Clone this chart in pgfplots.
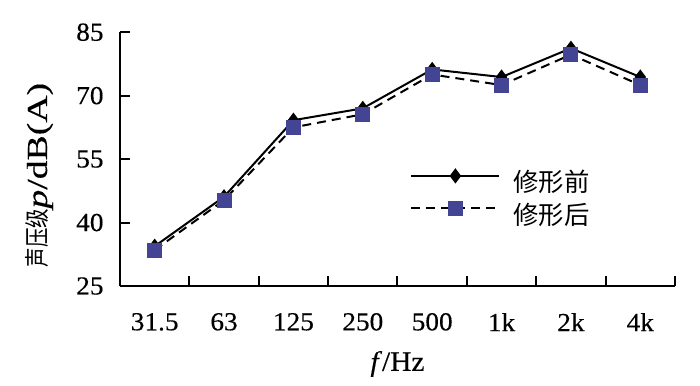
\documentclass[border=0pt]{standalone}
\usepackage{fontspec}
\setmainfont{Liberation Serif}[FakeStretch=1.05, FakeBold=0.3]
\newfontfamily\ylatin{Liberation Serif}[FakeStretch=1.3, FakeBold=0.3]
\newfontfamily\cjk{Noto Sans CJK SC}
\newfontfamily\cjky{Noto Sans CJK SC}[FakeStretch=0.78]
\usepackage{pgfplots}
\pgfplotsset{compat=1.18}
\definecolor{sq}{RGB}{68,68,148}
\begin{document}
\begin{tikzpicture}
\useasboundingbox (-60pt,-49.5pt) rectangle (290pt,143pt);
\begin{axis}[
  at={(0,0)}, anchor=south west,
  scale only axis, width=277.5pt, height=126.9pt,
  xmin=0.5, xmax=8.5, ymin=25, ymax=85,
  axis x line*=bottom, axis y line*=left,
  axis line style={line width=1pt, black},
  tick align=inside,
  every tick/.style={black, line width=1pt},
  major tick length=5pt,
  ytick={25,40,55,70,85},
  xtick={1.5,2.5,3.5,4.5,5.5,6.5,7.5,8.5},
  xticklabels={},
  extra x ticks={1,2,3,4,5,6,7,8},
  extra x tick labels={31.5,63,125,250,500,1k,2k,4k},
  extra x tick style={major tick length=0pt},
  /pgf/number format/assume math mode=true,
  tick label style={font=\fontsize{13}{15}\selectfont},
  xticklabel style={anchor=north, yshift=-10pt},
  yticklabel style={xshift=-4.7pt},
  xlabel={\textit{f}/Hz},
  xlabel style={at={(axis description cs:0.5,-0.307)}, anchor=center, font=\fontsize{14}{16}\selectfont},
  ylabel={{\cjky\fontsize{12.5}{14}\selectfont 声压级}{\ylatin\fontsize{14.5}{16}\selectfont\textit{p}/dB(A)}},
  ylabel style={at={(axis description cs:-0.145,0.4375)}, anchor=center},
  legend style={at={(rel axis cs:0.5225,0.459)}, anchor=north west, draw=none, fill=none,
    inner sep=0pt, row sep=2.3pt, column sep=6.5pt,
    font=\cjk\fontsize{12.7}{14}\selectfont,
    nodes={inner sep=0pt, text height=10.5pt, text depth=2.5pt}},
  legend cell align=left,
  legend image code/.code={\draw[#1, mark repeat=2, mark phase=2] plot coordinates {(0pt,4pt) (22pt,4pt) (44pt,4pt)};},
]
\addplot[black, line width=1pt, mark=diamond*, mark size=3pt, mark options={solid, fill=black}]
  coordinates {(1,34.4)(2,46.1)(3,64.2)(4,67.0)(5,76.2)(6,74.4)(7,81.2)(8,74.4)};
\addlegendentry{修形前}
\addplot[black, line width=1pt, dash pattern=on 4.5pt off 3pt, mark=square*, mark size=3.25pt, mark options={solid, fill=sq, draw=sq}]
  coordinates {(1,33.5)(2,45.3)(3,62.5)(4,65.6)(5,75.0)(6,72.5)(7,79.7)(8,72.5)};
\addlegendentry{修形后}
\end{axis}
\end{tikzpicture}
\end{document}
